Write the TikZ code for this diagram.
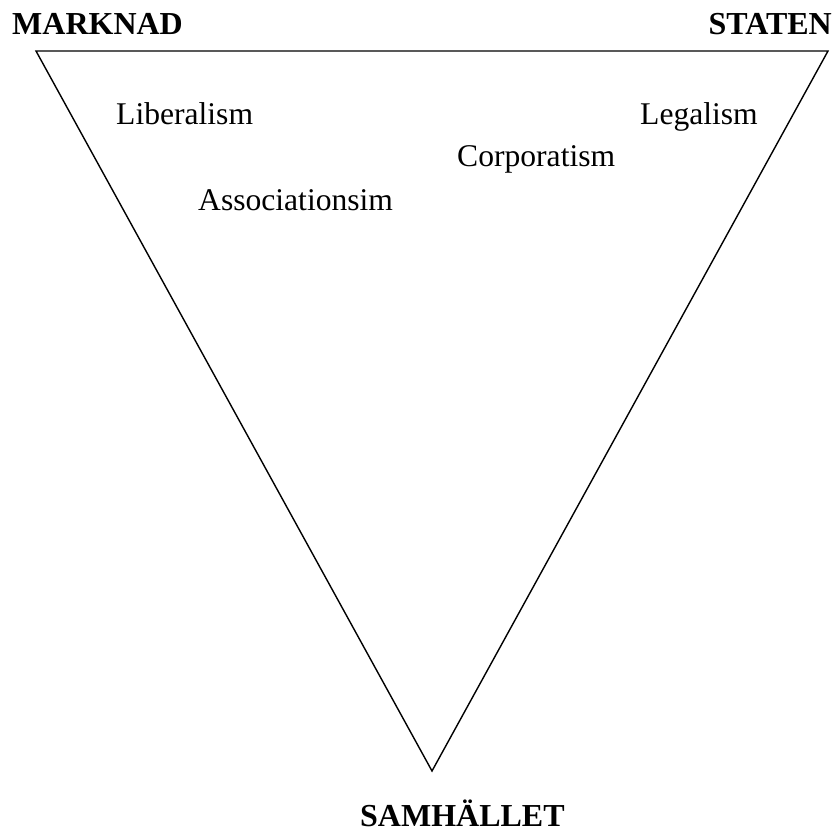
\documentclass[tikz,border=0pt]{standalone}
\usepackage{fontspec}
\setmainfont{Liberation Serif}
\begin{document}
\begin{tikzpicture}[x=1pt,y=1pt,
  lbl/.style={inner sep=0pt,anchor=base west,font=\fontsize{31.6}{36}\selectfont},
  corner/.style={inner sep=0pt,anchor=base west,font=\fontsize{32}{36}\selectfont\bfseries}]
\useasboundingbox (0,0) rectangle (837,834);
\coordinate (tl) at (36,783);
\coordinate (tr) at (828,783);
\coordinate (bt) at (432,63);
\draw[line width=1.4pt,line join=miter] (tl) -- (tr) -- (bt) -- cycle;
\node[corner] (mark) at (12,799) {MARKNAD};
\node[corner,anchor=base east] (stat) at (832,799) {STATEN};
\node[corner] (samh) at (360,7) {SAMHÄLLET};
\node[lbl] (lib) at (116,709) {Liberalism};
\node[lbl] (leg) at (640,709) {Legalism};
\node[lbl] (corp) at (457,667) {Corporatism};
\node[lbl] (assoc) at (198,623) {Associationsim};
\end{tikzpicture}
\end{document}
